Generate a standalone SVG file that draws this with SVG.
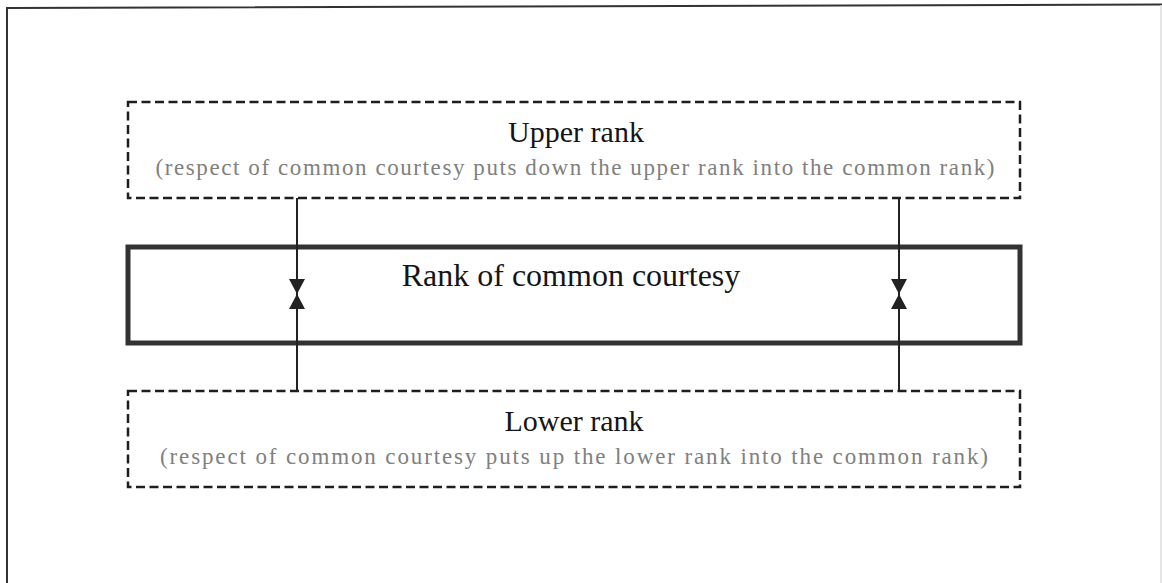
<svg xmlns="http://www.w3.org/2000/svg" width="1162" height="583" viewBox="0 0 1162 583">
  <style>
    .dash { fill: none; stroke: #1e1e1e; stroke-width: 2.5; stroke-dasharray: 9 4.5; }
    .main { fill: none; stroke: #333; stroke-width: 5; }
    .link { stroke: #222; stroke-width: 2; fill: none; }
    .title { font-family: "Liberation Serif", "Times New Roman", serif; font-size: 30px; fill: #151515; text-anchor: middle; }
    .note { font-family: "Liberation Serif", "Times New Roman", serif; font-size: 23px; fill: #808080; text-anchor: middle; }
  </style>
  <defs>
    <marker id="head" viewBox="0 0 15 16" refX="15" refY="8" markerWidth="15" markerHeight="16" markerUnits="userSpaceOnUse" orient="auto">
      <path d="M0,0 L15,8 L0,16 Z" fill="#222"/>
    </marker>
  </defs>

  <rect width="1162" height="583" fill="#fff"/>

  <!-- outer frame -->
  <g id="frame">
    <path d="M7,583 L7,8 L1162,4.5" fill="none" stroke="#333" stroke-width="2"/>
    <line x1="1161" y1="5" x2="1161" y2="583" stroke="#ddd" stroke-width="1.5"/>
  </g>

  <g id="upper">
    <rect class="dash" x="128" y="102" width="892" height="96"/>
    <text class="title" x="576" y="142">Upper rank</text>
    <text class="note" x="575" y="175" textLength="839" lengthAdjust="spacing">(respect of common courtesy puts down the upper rank into the common rank)</text>
  </g>

  <g id="common">
    <rect class="main" x="128" y="247" width="892" height="96"/>
    <text class="title" x="571" y="286" style="font-size:32px">Rank of common courtesy</text>
  </g>

  <g id="lower">
    <rect class="dash" x="128" y="391" width="892" height="96"/>
    <text class="title" x="574" y="431">Lower rank</text>
    <text class="note" x="574" y="464" textLength="828" lengthAdjust="spacing">(respect of common courtesy puts up the lower rank into the common rank)</text>
  </g>

  <g id="connectors">
    <line class="link" x1="297" y1="198" x2="297" y2="294" marker-end="url(#head)"/>
    <line class="link" x1="297" y1="391" x2="297" y2="294" marker-end="url(#head)"/>
    <line class="link" x1="899" y1="198" x2="899" y2="294" marker-end="url(#head)"/>
    <line class="link" x1="899" y1="391" x2="899" y2="294" marker-end="url(#head)"/>
  </g>
</svg>
